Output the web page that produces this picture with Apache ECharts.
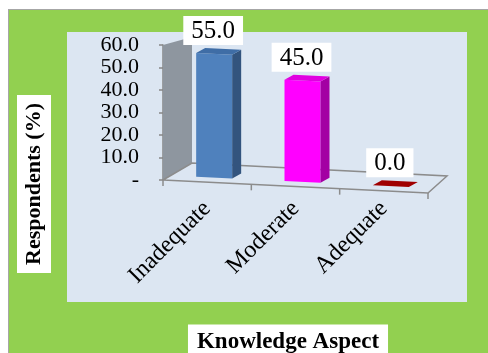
<!DOCTYPE html>
<html>
<head>
<meta charset="utf-8">
<script src="https://cdn.jsdelivr.net/npm/echarts@6/dist/echarts.min.js"></script>
<style>html,body{margin:0;padding:0;background:#fff}#c{width:488px;height:353px}</style>
</head>
<body>
<div id="c"></div>
<script>
const categories = ['Inadequate', 'Moderate', 'Adequate'];
const values = [55.0, 45.0, 0.0];
const yTickLabels = ['-', '10.0', '20.0', '30.0', '40.0', '50.0', '60.0'];
const yTitle = 'Respondents (%)';
const xTitle = 'Knowledge Aspect';

const frontColors = ['#4F81BD', '#FF00FF', '#C00000'];
const sideColors = ['#33547E', '#A300A3', '#800000'];
const topColors = ['#3F6DA6', '#E000E0', '#A00000'];
const SERIF = 'Liberation Serif';
const K = 0.049; // floor perspective slope

const chart = echarts.init(document.getElementById('c'), null, {renderer: 'canvas'});

function frameItem(params, api) {
  const cs = params.coordSys;
  const x0 = cs.x, y0 = cs.y + cs.height, x1 = cs.x + cs.width, y1 = y0 + cs.width * K;
  const top = cs.y;
  const lineStyle = {stroke: '#8C8C8C', lineWidth: 1.5, fill: null};
  const children = [
    {type: 'polygon', shape: {points: [[x0, top], [x0 + 29, top - 8], [x0 + 29, y0 - 17], [x0, y0]]}, style: {fill: '#8E969F'}},
    {type: 'polyline', shape: {points: [[x0, y0], [x1, y1], [x1 + 19, y1 - 17], [x0 + 29, y0 - 17], [x0, y0]]}, style: lineStyle}
  ];
  const n = categories.length;
  for (let j = 0; j <= n; j++) {
    const tx = x0 + cs.width * j / n;
    const ty = y0 + (tx - x0) * K;
    children.push({type: 'line', shape: {x1: tx, y1: ty, x2: tx, y2: ty + 6}, style: {stroke: '#8C8C8C', lineWidth: 1.5}});
  }
  return {type: 'group', children};
}

function barItem(params, api) {
  const cs = params.coordSys;
  const i = api.value(0), v = api.value(1);
  const base = api.coord([i, 0]);
  const topC = api.coord([i, v]);
  const h = base[1] - topC[1];
  const cx = base[0] + 7;
  const w = 36, dx = 9, dy = -5;
  const xl = cx - w / 2, xr = cx + w / 2;
  const fy = x => cs.y + cs.height + (x - cs.x) * K - 5;
  const yl = fy(xl), yr = fy(xr);
  const children = [];
  if (h > 0.5) {
    children.push({type: 'polygon', shape: {points: [[xl, yl], [xr, yr], [xr, yr - h], [xl, yl - h]]}, style: {fill: frontColors[i]}});
    children.push({type: 'polygon', shape: {points: [[xr, yr], [xr + dx, yr + dy], [xr + dx, yr + dy - h], [xr, yr - h]]}, style: {fill: sideColors[i]}});
  }
  children.push({type: 'polygon', shape: {points: [[xl, yl - h], [xr, yr - h], [xr + dx, yr - h + dy], [xl + dx, yl - h + dy]]}, style: {fill: topColors[i]}});
  children.push({
    type: 'text',
    style: {
      text: v.toFixed(1), x: cx - 1, y: Math.min(yl, yr) - h + dy - 3,
      align: 'center', verticalAlign: 'bottom',
      fontSize: 25, fontFamily: SERIF, fill: '#000',
      backgroundColor: '#fff', padding: [3, 8, 1, 8]
    }
  });
  return {type: 'group', children};
}

const option = {
  backgroundColor: '#ffffff',
  animation: false,
  graphic: [
    {type: 'rect', z: -20, shape: {x: 8, y: 9, width: 480, height: 344}, style: {fill: '#A6A6A6'}},
    {type: 'rect', z: -19, shape: {x: 9, y: 10, width: 479, height: 343}, style: {fill: '#92D050'}},
    {type: 'rect', z: -18, shape: {x: 67, y: 32, width: 400, height: 270}, style: {fill: '#DCE6F2'}},
    {type: 'text', z: 10, x: 34, y: 184, rotation: Math.PI / 2,
      style: {text: yTitle, fontSize: 22, fontWeight: 'bold', fontFamily: SERIF, fill: '#000', align: 'center', verticalAlign: 'middle',
        backgroundColor: '#fff', padding: [6, 8, 6, 8]}},
    {type: 'text', z: 10, x: 288, y: 342,
      style: {text: xTitle, fontSize: 23, fontWeight: 'bold', fontFamily: SERIF, fill: '#000', align: 'center', verticalAlign: 'middle',
        backgroundColor: '#fff', padding: [4, 9, 8, 9]}}
  ],
  grid: {left: 163, top: 45, right: 60, bottom: 173, outerBoundsMode: 'none', containLabel: false},
  xAxis: {
    type: 'category', data: categories,
    axisLine: {show: false}, axisTick: {show: false}, splitLine: {show: false},
    axisLabel: {interval: 0, rotate: 45, margin: 25, color: '#000', fontSize: 24, fontFamily: SERIF}
  },
  yAxis: {
    type: 'value', min: 0, max: 60, interval: 10,
    splitLine: {show: false},
    axisLine: {show: true, lineStyle: {color: '#868686', width: 1.5}},
    axisTick: {show: true, length: 4, lineStyle: {color: '#868686', width: 1.5}},
    axisLabel: {margin: 24, color: '#000', fontSize: 22, lineHeight: 20, fontFamily: SERIF,
      formatter: v => yTickLabels[Math.round(v / 10)]}
  },
  series: [
    {type: 'custom', z: 1, clip: false, renderItem: frameItem, data: [[0, 0]], silent: true},
    {type: 'custom', z: 3, clip: false, renderItem: barItem, data: values.map((v, i) => [i, v]), encode: {x: 0, y: 1}}
  ]
};
chart.setOption(option);
</script>
</body>
</html>
